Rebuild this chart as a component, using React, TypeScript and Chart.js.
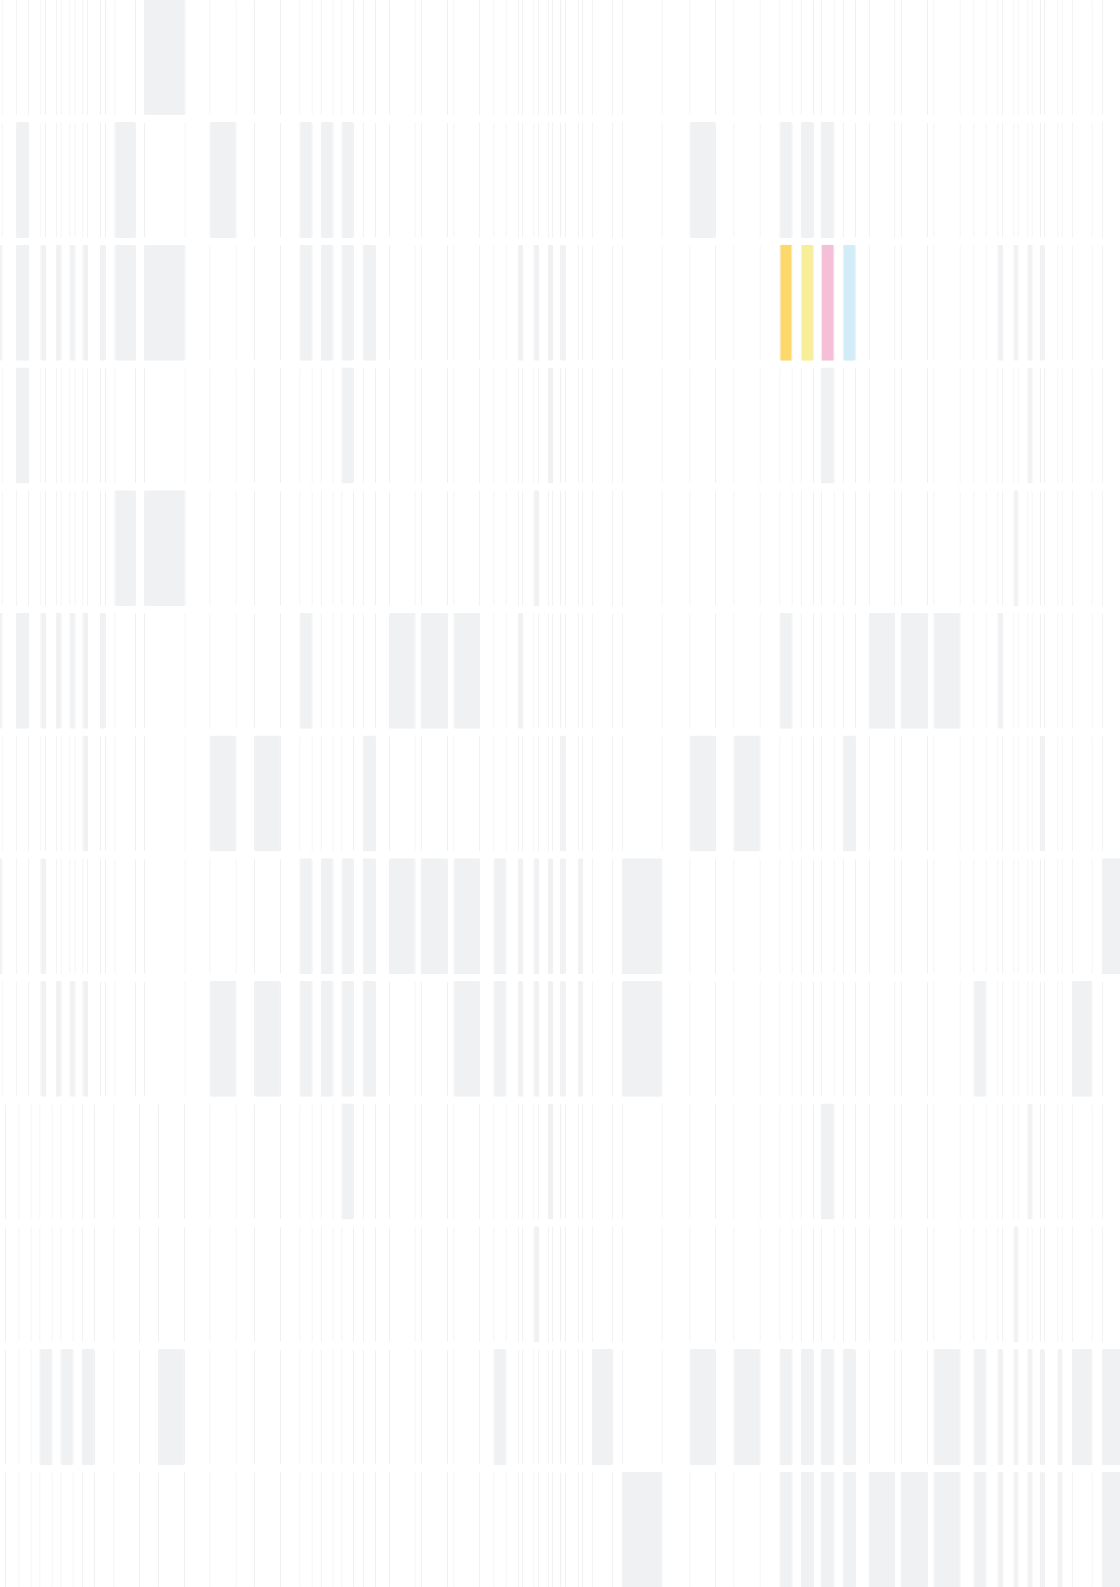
import React, { useEffect, useRef } from "react";
import { Chart, registerables } from "chart.js";

Chart.register(...registerables);

// 13 rows (categories on the index axis)
const rowLabels = ["1", "2", "3", "4", "5", "6", "7", "8", "9", "10", "11", "12", "13"];
// which left-hand column layout each row uses
const rowLayouts = ["A", "A", "A", "A", "A", "A", "A", "A", "A", "B", "B", "B", "B"];

// left-hand cells, layout A
const leftAStart = [-12, 15.7, 40.3, 55.7, 69.3, 82.3, 100, 114.3, 144];
const leftAEnd = [2.7, 29.3, 46, 61.7, 75.7, 88.3, 106, 136, 185.7];
// left-hand cells, layout B
const leftBStart = [-12, 18.3, 39.3, 60.3, 81.7, 113.3, 158];
const leftBEnd = [6, 31.7, 52.7, 73.7, 95, 140.3, 185];
// cells shared by every row
const sharedStart = [
  209.3, 254, 299.3, 320.7, 341.3, 362.7, 389, 420.7, 453.3, 493.3, 517.7, 533.3, 547.7, 560, 577.7, 591.7,
  621.7, 689.3, 733.3, 779.3, 800.7, 820.7, 842.7, 868.7, 900.7, 933.3, 973.3, 997.3, 1013.3, 1027.3, 1040,
  1057.3, 1071.7, 1101.7,
];
const sharedEnd = [
  236.7, 281, 312.7, 333.7, 354, 376, 415.7, 448, 480.3, 506.7, 523.3, 539.3, 553.3, 566, 583.3, 613.3,
  662.7, 716, 760.7, 792.7, 814, 834.7, 856, 895.3, 928, 960.7, 986.7, 1003.3, 1018.7, 1032.7, 1045,
  1062.7, 1092.7, 1135,
];

// filled (grey) cells per row
const filledLeft: number[][] = [
  [8],
  [1, 7],
  [0, 1, 2, 3, 4, 5, 6, 7, 8],
  [1],
  [7, 8],
  [0, 1, 2, 3, 4, 5, 6],
  [5],
  [0, 2],
  [2, 3, 4, 5],
  [],
  [],
  [2, 3, 4, 6],
  [],
];
const filledShared: number[][] = [
  [],
  [0, 2, 3, 4, 17, 19, 20, 21],
  [2, 3, 4, 5, 10, 11, 12, 13, 27, 28, 29, 30],
  [4, 12, 21, 29],
  [11, 28],
  [2, 6, 7, 8, 10, 19, 23, 24, 25, 27],
  [0, 1, 5, 13, 17, 18, 22, 30],
  [2, 3, 4, 5, 6, 7, 8, 9, 10, 11, 12, 13, 14, 16, 33],
  [0, 1, 2, 3, 4, 5, 8, 9, 10, 11, 12, 13, 14, 16, 26, 32],
  [4, 12, 21, 29],
  [11, 28],
  [9, 15, 17, 18, 19, 20, 21, 22, 25, 26, 27, 28, 29, 30, 31, 32, 33],
  [16, 19, 20, 21, 22, 23, 24, 25, 26, 27, 28, 29, 30, 31, 33],
];

// coloured highlight cells (row 3)
const accentRow = 2;
const accentShared = [19, 20, 21, 22];
const accentColors = ["#fdd96b", "#f8ee97", "#f5bfd7", "#d2ecf8"];

const WHITE = "#ffffff";
const GREY = "#f0f1f3";
const EDGE = "#f0f0f2";

export default function App() {
  const canvasRef = useRef<HTMLCanvasElement | null>(null);

  useEffect(() => {
    const canvas = canvasRef.current;
    if (!canvas) return;

    const rows = rowLabels.map((_, r) => {
      const ls = rowLayouts[r] === "A" ? leftAStart : leftBStart;
      const le = rowLayouts[r] === "A" ? leftAEnd : leftBEnd;
      const cells: { v: [number, number]; c: string }[] = [];
      ls.forEach((s, i) => {
        cells.push({ v: [s, le[i]], c: filledLeft[r].includes(i) ? GREY : WHITE });
      });
      sharedStart.forEach((s, i) => {
        let c = filledShared[r].includes(i) ? GREY : WHITE;
        if (r === accentRow && accentShared.includes(i)) c = accentColors[accentShared.indexOf(i)];
        cells.push({ v: [s, sharedEnd[i]], c });
      });
      return cells;
    });

    const maxCells = Math.max(...rows.map((r) => r.length));
    const datasets = [];
    for (let k = 0; k < maxCells; k++) {
      datasets.push({
        label: "c" + k,
        data: rows.map((r) => (r[k] ? r[k].v : null)),
        backgroundColor: rows.map((r) => (r[k] ? r[k].c : WHITE)),
        borderColor: EDGE,
        borderWidth: { left: 1.2, right: 1.2, top: 0, bottom: 0 },
        borderSkipped: false,
        borderRadius: 1.5,
        grouped: false,
        categoryPercentage: 1,
        barPercentage: 0.945,
      });
    }

    const chart = new Chart(canvas, {
      type: "bar",
      data: { labels: rowLabels, datasets: datasets as any },
      options: {
        indexAxis: "y",
        responsive: false,
        maintainAspectRatio: false,
        animation: false,
        layout: { padding: 0 },
        scales: {
          x: { type: "linear", min: 0, max: 1120, display: false },
          y: { type: "category", display: false, offset: true },
        },
        plugins: { legend: { display: false }, tooltip: { enabled: false } },
      },
    });
    return () => chart.destroy();
  }, []);

  return (
    <div
      style={{
        position: "fixed",
        top: 0,
        left: 0,
        width: 1120,
        height: 1587,
        overflow: "hidden",
        background: "#ffffff",
      }}
    >
      <canvas
        ref={canvasRef}
        width={1120}
        height={1595}
        style={{ position: "absolute", top: -4, left: 0, width: 1120, height: 1595 }}
      />
    </div>
  );
}
